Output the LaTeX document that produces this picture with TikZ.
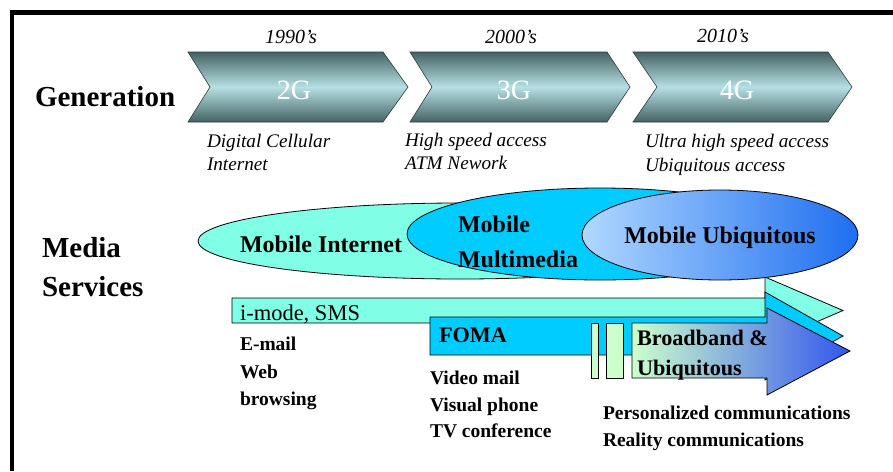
\documentclass[tikz,border=0pt]{standalone}
\usepackage{fontspec}
\setmainfont{Liberation Serif}
\definecolor{aqua}{HTML}{80FFE6}
\definecolor{cyanm}{HTML}{00CCFF}
\definecolor{paleg}{HTML}{CCFFCC}
\definecolor{chevdark}{HTML}{446262}
\definecolor{chevlight}{HTML}{B6E0E4}
\definecolor{ubil}{HTML}{B0D8FF}
\definecolor{ubir}{HTML}{1E6EF0}
\definecolor{bbr}{HTML}{3355EE}
\begin{document}
\begin{tikzpicture}[x=1pt,y=-1pt,
  chev/.style={draw=chevdark!60!black, line width=0.6pt, top color=chevdark, bottom color=chevdark, middle color=chevlight},
  shp/.style={draw=black, line width=0.8pt},
  lbl/.style={anchor=base west, inner sep=0pt, outer sep=0pt},
  ctr/.style={anchor=base, inner sep=0pt, outer sep=0pt},
  head/.style={lbl, font=\fontsize{29}{29}\selectfont\bfseries},
  year/.style={lbl, font=\fontsize{20}{20}\selectfont\itshape},
  gen/.style={ctr, text=white, font=\fontsize{28}{28}\selectfont},
  desc/.style={lbl, font=\fontsize{19.2}{19.2}\selectfont\itshape},
  ell/.style={ctr, font=\fontsize{24}{24}\selectfont\bfseries},
  bar/.style={lbl, font=\fontsize{22.5}{22.5}\selectfont},
  barb/.style={lbl, font=\fontsize{22.2}{22.2}\selectfont\bfseries},
  item/.style={lbl, font=\fontsize{19.5}{19.5}\selectfont\bfseries}
]
\useasboundingbox (0,0) rectangle (893,471);
\fill[white] (0,0) rectangle (893,471);
% frame
\draw[line width=4.5pt] (12,471) -- (12,12.5) -- (893,12.5);

% generation chevrons
\shade[chev] (188,52) -- (383,52) -- (408,87) -- (383,122) -- (188,122) -- (210,87) -- cycle;
\shade[chev] (410,52) -- (607,52) -- (630,87) -- (607,122) -- (410,122) -- (432,87) -- cycle;
\shade[chev] (633,52) -- (828,52) -- (852,87) -- (828,122) -- (633,122) -- (657,87) -- cycle;
\node[gen] (g2) at (294,99) {2G};
\node[gen] (g3) at (514,99) {3G};
\node[gen] (g4) at (737,99) {4G};
\node[year] (y1) at (265,43) {1990's};
\node[year] (y2) at (485,43) {2000's};
\node[year] (y3) at (697,42) {2010's};
\node[head] (generation) at (35,106) {Generation};

\node[desc] (d1a) at (207,147) {Digital Cellular};
\node[desc] (d1b) at (207,170) {Internet};
\node[desc] (d2a) at (405,146) {High speed access};
\node[desc] (d2b) at (405,169) {ATM Nework};
\node[desc] (d3a) at (645,147) {Ultra high speed access};
\node[desc] (d3b) at (645,171) {Ubiquitous access};

\node[head] (media) at (42,257) {Media};
\node[head] (services) at (42,296) {Services};

% service arrows
\draw[shp, fill=aqua] (232,298) -- (765,298) -- (765,277) -- (843,310.5) -- (765,344) -- (765,323) -- (232,323) -- cycle;
\draw[shp, fill=cyanm] (430,317) -- (765,317) -- (765,292) -- (843,336) -- (765,380) -- (765,355) -- (430,355) -- cycle;
\draw[shp, fill=paleg] (591,323) rectangle (598,378);
\draw[shp, fill=paleg] (606,323) rectangle (623,378);
\shade[shp, left color=paleg, right color=bbr] (632,323) -- (767,323) -- (767,308) -- (850,351) -- (767,395) -- (767,378) -- (632,378) -- cycle;

% ellipses
\draw[shp, fill=aqua] (460,241) ellipse [x radius=262pt, y radius=38pt];
\draw[shp, fill=cyanm] (600,234) ellipse [x radius=193pt, y radius=46pt];
\shade[shp, left color=ubil, right color=ubir] (720,235) ellipse [x radius=138pt, y radius=45pt];

\node[ell] (mi) at (321,252) {Mobile Internet};
\node[ell, anchor=base west] (mm1) at (458,232) {Mobile};
\node[ell, anchor=base west] (mm2) at (458,267) {Multimedia};
\node[ell] (mu) at (720,243) {Mobile Ubiquitous};

\node[bar] (imode) at (240,320) {i-mode, SMS};
\node[barb] (foma) at (439,342) {FOMA};
\node[barb] (bb1) at (637,345) {Broadband \&};
\node[barb] (bb2) at (637,375) {Ubiquitous};

\node[item] (i1) at (240,350) {E-mail};
\node[item] (i2) at (240,378) {Web};
\node[item] (i3) at (240,405) {browsing};
\node[item] (v1) at (430,384) {Video mail};
\node[item] (v2) at (430,411) {Visual phone};
\node[item] (v3) at (430,437) {TV conference};
\node[item] (p1) at (603,419) {Personalized communications};
\node[item] (p2) at (603,446) {Reality communications};
\end{tikzpicture}
\end{document}
